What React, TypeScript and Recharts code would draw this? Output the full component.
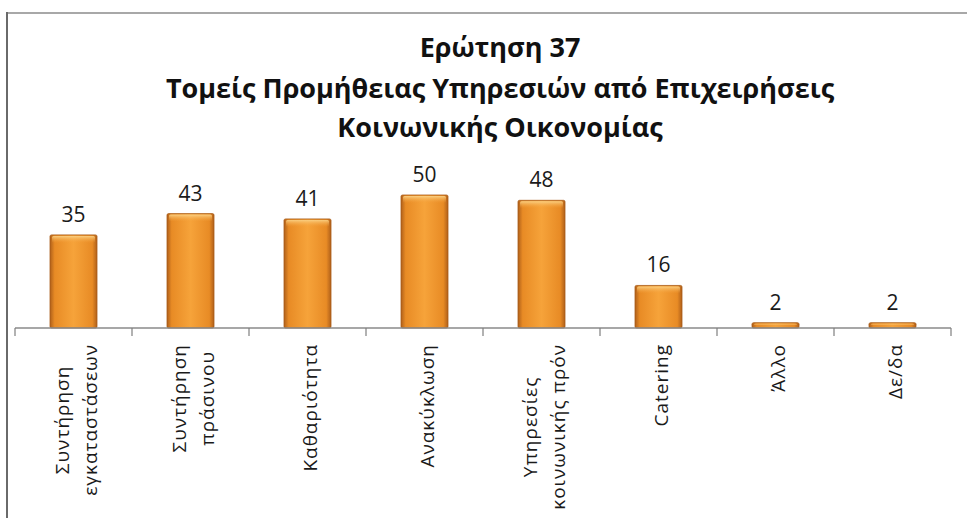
import React from "react";
import { BarChart, Bar, XAxis, YAxis, LabelList } from "recharts";

const categories: string[] = [
  "Συντήρηση εγκαταστάσεων",
  "Συντήρηση πράσινου",
  "Καθαριότητα",
  "Ανακύκλωση",
  "Υπηρεσίες κοινωνικής πρόν",
  "Catering",
  "Άλλο",
  "Δε/δα",
];
const tickLines: string[][] = [
  ["Συντήρηση", "εγκαταστάσεων"],
  ["Συντήρηση", "πράσινου"],
  ["Καθαριότητα"],
  ["Ανακύκλωση"],
  ["Υπηρεσίες", "κοινωνικής πρόν"],
  ["Catering"],
  ["Άλλο"],
  ["Δε/δα"],
];
const values: number[] = [35, 43, 41, 50, 48, 16, 2, 2];
const titleLines: string[] = [
  "Ερώτηση 37",
  "Τομείς Προμήθειας Υπηρεσιών από Επιχειρήσεις",
  "Κοινωνικής Οικονομίας",
];

const data = categories.map((c, i) => ({ name: c, value: values[i] }));

const W = 967;
const H = 518;
const M = { top: 195, right: 16, bottom: 0, left: 15 };
const AXIS_H = 190;
const BAND = (W - M.left - M.right) / categories.length;
const LABEL_FONT = "19px 'Open Sans'";
const LABEL_SPACING = 1.0;

let ctx: CanvasRenderingContext2D | null = null;
function measure(s: string): number {
  if (!ctx) {
    const c = document.createElement("canvas");
    ctx = c.getContext("2d");
  }
  if (!ctx) return s.length * 11;
  ctx.font = LABEL_FONT;
  return ctx.measureText(s).width + LABEL_SPACING * s.length;
}

const Tick = (props: any) => {
  const { x, y, index } = props;
  const lines = tickLines[index] || [String(props.payload.value)];
  const L = Math.max(...lines.map(measure));
  const top = 16;
  const spacing = 28;
  const n = lines.length;
  return (
    <g>
      <line x1={x - BAND / 2} x2={x - BAND / 2} y1={y} y2={y + 8} stroke="#7f7f7f" strokeWidth={1.2} />
      {index === categories.length - 1 && (
        <line x1={x + BAND / 2} x2={x + BAND / 2} y1={y} y2={y + 8} stroke="#7f7f7f" strokeWidth={1.2} />
      )}
      <g transform={`translate(${x},${y}) rotate(-90)`}>
        {lines.map((ln, i) => (
          <text
            key={i}
            x={-(top + L / 2)}
            y={(i - (n - 1) / 2) * spacing + 2}
            textAnchor="middle"
            dominantBaseline="central"
            fontFamily="'Open Sans'"
            fontSize={19}
            letterSpacing={LABEL_SPACING}
            fill="#1a1a1a"
          >
            {ln}
          </text>
        ))}
      </g>
    </g>
  );
};

const BarShape = (props: any) => {
  const { x, y, width, height } = props;
  if (!height || height <= 0) return null;
  const hl = Math.min(7, height * 0.35);
  return (
    <g>
      <rect x={x} y={y} width={width} height={height} fill="url(#barGrad)" rx={1.5} />
      <rect x={x + 2} y={y + 1} width={width - 4} height={hl} fill="url(#topGrad)" rx={1.5} />
      <rect x={x} y={y} width={width} height={height} fill="none" stroke="#a85c17" strokeWidth={0.8} rx={1.5} />
    </g>
  );
};

export default function App() {
  return (
    <div style={{ position: "absolute", left: 0, top: 0, width: W, height: H, background: "#fff", overflow: "hidden" }}>
      <div style={{ position: "absolute", left: 7, top: 12, width: W - 7, height: 0, borderTop: "2px solid #a8a8a8" }} />
      <div style={{ position: "absolute", left: 6, top: 12, width: 0, height: H - 12, borderLeft: "2px solid #6a6a6a" }} />
      {titleLines.map((t, i) => (
        <div
          key={i}
          style={{
            position: "absolute",
            left: 33,
            width: W - 33,
            top: [47, 88, 127][i] - 20,
            height: 40,
            lineHeight: "40px",
            textAlign: "center",
            fontFamily: "'Open Sans'",
            fontWeight: 700,
            fontSize: 27,
            color: "#111",
            whiteSpace: "nowrap",
          }}
        >
          {t}
        </div>
      ))}
      <BarChart width={W} height={H} data={data} margin={M}>
        <defs>
          <linearGradient id="barGrad" x1="0" y1="0" x2="1" y2="0">
            <stop offset="0%" stopColor="#b0601a" />
            <stop offset="10%" stopColor="#e88b25" />
            <stop offset="50%" stopColor="#f6a33a" />
            <stop offset="90%" stopColor="#e88b25" />
            <stop offset="100%" stopColor="#b0601a" />
          </linearGradient>
          <linearGradient id="topGrad" x1="0" y1="0" x2="0" y2="1">
            <stop offset="0%" stopColor="#fbd58a" stopOpacity={0.9} />
            <stop offset="100%" stopColor="#f5a23d" stopOpacity={0} />
          </linearGradient>
        </defs>
        <XAxis
          dataKey="name"
          interval={0}
          height={AXIS_H}
          tickLine={false}
          tickSize={0}
          tickMargin={0}
          axisLine={{ stroke: "#8a8a8a", strokeWidth: 1.5 }}
          tick={<Tick />}
        />
        <YAxis hide domain={[0, 50]} />
        <Bar dataKey="value" barSize={47} isAnimationActive={false} shape={<BarShape />}>
          <LabelList
            dataKey="value"
            position="top"
            offset={13}
            fill="#1a1a1a"
            fontFamily="'Open Sans'"
            fontSize={21}
          />
        </Bar>
      </BarChart>
    </div>
  );
}
